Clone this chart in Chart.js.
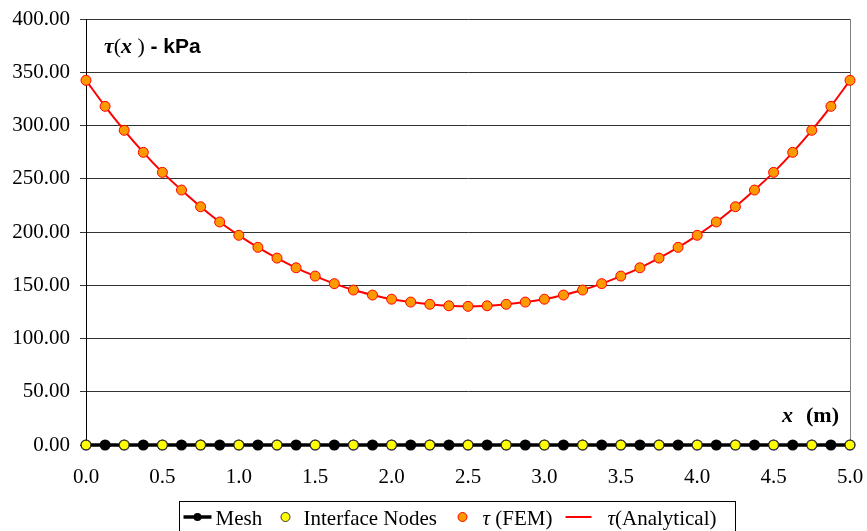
<!DOCTYPE html>
<html>
<head>
<meta charset="utf-8">
<script src="https://cdn.jsdelivr.net/npm/chart.js@4.4.0/dist/chart.umd.min.js"></script>
<style>
  html, body { margin: 0; padding: 0; background: #fff; }
  #contenedor { width: 867px; height: 531px; }
</style>
</head>
<body>
<div id="contenedor"><canvas id="grafico"></canvas></div>
<script>
// Nodos de la malla (m)
const xNodos = [0.0, 0.125, 0.25, 0.375, 0.5, 0.625, 0.75, 0.875, 1.0, 1.125, 1.25, 1.375, 1.5, 1.625, 1.75, 1.875,
    2.0, 2.125, 2.25, 2.375, 2.5, 2.625, 2.75, 2.875, 3.0, 3.125, 3.25, 3.375, 3.5, 3.625, 3.75, 3.875,
    4.0, 4.125, 4.25, 4.375, 4.5, 4.625, 4.75, 4.875, 5.0];
// Nodos de interfaz (m)
const xInterfaz = [0.0, 0.25, 0.5, 0.75, 1.0, 1.25, 1.5, 1.75, 2.0, 2.25, 2.5, 2.75, 3.0, 3.25, 3.5, 3.75,
    4.0, 4.25, 4.5, 4.75, 5.0];
// Tension tau(x) en kPa
const tauFEM = [342.4, 318.0, 295.5, 274.8, 256.0, 239.4, 223.7, 209.4, 196.9, 185.6, 175.5, 166.4, 158.6, 151.5,
    145.5, 140.8, 136.9, 134.2, 132.1, 130.7, 130.2, 130.7, 132.1, 134.2, 136.9, 140.8, 145.5, 151.5,
    158.6, 166.4, 175.5, 185.6, 196.9, 209.4, 223.7, 239.4, 256.0, 274.8, 295.5, 318.0, 342.4];
const tauAnalitico = [342.4, 318.0, 295.5, 274.8, 256.0, 239.4, 223.7, 209.4, 196.9, 185.6, 175.5, 166.4, 158.6, 151.5,
    145.5, 140.8, 136.9, 134.2, 132.1, 130.7, 130.2, 130.7, 132.1, 134.2, 136.9, 140.8, 145.5, 151.5,
    158.6, 166.4, 175.5, 185.6, 196.9, 209.4, 223.7, 239.4, 256.0, 274.8, 295.5, 318.0, 342.4];
const etiquetas = ['Mesh', 'Interface Nodes', '(FEM)', '(Analytical)'];

const SERIF = '"Liberation Serif", "Times New Roman", serif';
const SANS = '"Liberation Sans", Arial, sans-serif';

const puntos = (xs, ys) => xs.map((x, i) => ({ x, y: ys ? ys[i] : 0 }));

function circulo(ctx, x, y, r, relleno, borde) {
    ctx.beginPath();
    ctx.arc(x, y, r, 0, Math.PI * 2);
    ctx.fillStyle = relleno;
    ctx.fill();
    if (borde) {
        ctx.strokeStyle = borde;
        ctx.lineWidth = 1;
        ctx.stroke();
    }
}

function trozos(ctx, partes, x, y) {
    partes.forEach(([t, f]) => {
        ctx.font = f;
        ctx.fillText(t, x, y);
        x += ctx.measureText(t).width;
    });
}

// Textos dentro del area del grafico, borde derecho y leyenda con marco
const textos = {
    id: 'textos',
    afterDraw(chart) {
        const { ctx, chartArea } = chart;
        ctx.save();
        ctx.fillStyle = '#000';
        ctx.textBaseline = 'alphabetic';
        ctx.textAlign = 'left';
        // tau(x) - kPa
        trozos(ctx, [
            ['τ', 'italic bold 22px ' + SERIF],
            ['(', '22px ' + SERIF],
            ['x', 'italic bold 22px ' + SERIF],
            [' ) ', '22px ' + SERIF],
            ['- kPa', 'bold 21px ' + SANS],
        ], chartArea.left + 18, chartArea.top + 34);
        // x (m)
        ctx.font = 'bold 22px ' + SERIF;
        const wm = ctx.measureText('(m)').width;
        const xDer = chartArea.right - 11;
        const yEje = chartArea.bottom - 23;
        ctx.fillText('(m)', xDer - wm, yEje);
        ctx.font = 'italic bold 22px ' + SERIF;
        ctx.fillText('x', xDer - wm - 24, yEje);

        // leyenda
        const izq = chart.width / 2 - 255;
        const arriba = 501;
        const yIc = 517;
        const yTx = 525;
        ctx.strokeStyle = '#000';
        ctx.lineWidth = 1;
        ctx.strokeRect(Math.round(izq) + 0.5, arriba + 0.5, 556, 60);
        // Mesh
        ctx.strokeStyle = '#000';
        ctx.lineWidth = 3.5;
        ctx.beginPath();
        ctx.moveTo(izq + 5, yIc);
        ctx.lineTo(izq + 33, yIc);
        ctx.stroke();
        circulo(ctx, izq + 19, yIc, 4, '#000');
        ctx.fillStyle = '#000';
        trozos(ctx, [[etiquetas[0], '21px ' + SERIF]], izq + 37, yTx);
        // Interface Nodes
        circulo(ctx, izq + 107, yIc, 4.5, '#ffff00', '#333');
        ctx.fillStyle = '#000';
        trozos(ctx, [[etiquetas[1], '21px ' + SERIF]], izq + 125, yTx);
        // tau (FEM)
        circulo(ctx, izq + 284, yIc, 4.5, '#ff9900', '#ff0000');
        ctx.fillStyle = '#000';
        trozos(ctx, [['τ', 'italic 21px ' + SERIF], [' ' + etiquetas[2], '21px ' + SERIF]], izq + 304, yTx);
        // tau (Analytical)
        ctx.strokeStyle = '#ff0000';
        ctx.lineWidth = 2;
        ctx.beginPath();
        ctx.moveTo(izq + 387, yIc);
        ctx.lineTo(izq + 413, yIc);
        ctx.stroke();
        ctx.fillStyle = '#000';
        trozos(ctx, [['τ', 'italic 21px ' + SERIF], [etiquetas[3], '21px ' + SERIF]], izq + 429, yTx);
        ctx.restore();
    },
};

// Borde derecho del area de trazado, dibujado antes de las series
const bordeDerecho = {
    id: 'bordeDerecho',
    beforeDatasetsDraw(chart) {
        const { ctx, chartArea } = chart;
        ctx.save();
        ctx.strokeStyle = '#808080';
        ctx.lineWidth = 1;
        ctx.beginPath();
        ctx.moveTo(chartArea.right + 0.5, chartArea.top);
        ctx.lineTo(chartArea.right + 0.5, chartArea.bottom);
        ctx.stroke();
        ctx.restore();
    },
};

new Chart(document.getElementById('grafico'), {
    type: 'scatter',
    data: {
        datasets: [
            {
                label: 'Mesh',
                data: puntos(xNodos),
                showLine: true,
                borderColor: '#000',
                borderWidth: 3.5,
                pointRadius: 3.8,
                pointBackgroundColor: '#000',
                pointBorderColor: '#000',
                clip: false,
                order: 1,
            },
            {
                label: 'Interface Nodes',
                data: puntos(xInterfaz),
                showLine: false,
                pointRadius: 4.8,
                pointBackgroundColor: '#ffff00',
                pointBorderColor: '#333',
                pointBorderWidth: 1,
                clip: false,
                order: 0,
            },
            {
                label: 'τ (FEM)',
                data: puntos(xNodos, tauFEM),
                showLine: false,
                pointRadius: 5,
                pointBackgroundColor: '#ff9900',
                pointBorderColor: '#ff0000',
                pointBorderWidth: 1,
                clip: false,
                order: 0,
            },
            {
                label: 'τ (Analytical)',
                data: puntos(xNodos, tauAnalitico),
                showLine: true,
                borderColor: '#ff0000',
                borderWidth: 2,
                pointRadius: 0,
                tension: 0.3,
                clip: false,
                order: 2,
            },
        ],
    },
    options: {
        responsive: true,
        maintainAspectRatio: false,
        animation: false,
        layout: { padding: { left: 0, right: 17, top: 19, bottom: 30 } },
        plugins: {
            tooltip: { enabled: false },
            legend: { display: false },
        },
        scales: {
            x: {
                type: 'linear',
                min: 0,
                max: 5,
                afterFit: (s) => {
                    s.height = 56;
                    s.paddingLeft = 0;
                    s.paddingRight = 0;
                },
                ticks: {
                    stepSize: 0.5,
                    color: '#000',
                    font: { family: SERIF, size: 21 },
                    callback: (v) => Number(v).toFixed(1),
                    maxRotation: 0,
                    padding: 15,
                },
                grid: { drawOnChartArea: false, color: '#000', tickLength: 5 },
                border: { color: '#000', width: 1 },
            },
            y: {
                min: 0,
                max: 400,
                afterFit: (s) => {
                    s.width = 86;
                    s.paddingTop = 0;
                    s.paddingBottom = 0;
                },
                ticks: {
                    stepSize: 50,
                    color: '#000',
                    font: { family: SERIF, size: 21 },
                    callback: (v) => Number(v).toFixed(2),
                    padding: 10,
                },
                grid: { color: '#333', tickLength: 6 },
                border: { color: '#000', width: 1 },
            },
        },
    },
    plugins: [bordeDerecho, textos],
});
</script>
</body>
</html>
